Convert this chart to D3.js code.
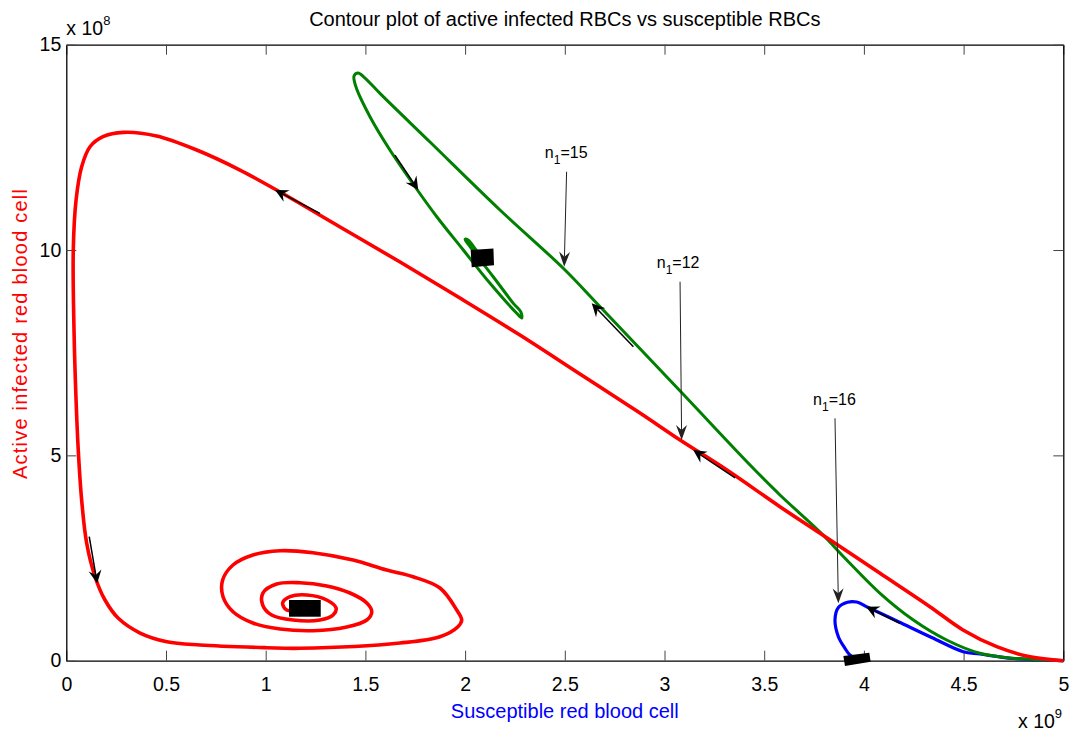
<!DOCTYPE html>
<html>
<head>
<meta charset="utf-8">
<script src="https://cdn.jsdelivr.net/npm/d3@7"></script>
<style>
  body { margin: 0; background: #fff; }
  svg { display: block; font-family: "Liberation Sans", Arial, Helvetica, sans-serif; }
</style>
</head>
<body>
<svg id="chart" width="1075" height="735"></svg>
<script>
// trajectories, x in 1e9 cells, y in 1e8 cells
const redPath = [
  [5.0,0.0],[4.833,0.097],[4.666,0.341],[4.497,0.748],[4.331,1.315],[4.081,2.128],
  [3.780,3.102],[3.579,3.750],[3.313,4.643],[3.078,5.374],[2.877,6.031],[2.576,6.981],
  [2.275,7.930],[1.974,8.831],[1.674,9.708],[1.373,10.560],[1.072,11.412],[0.871,11.948],
  [0.654,12.435],[0.453,12.776],[0.286,12.866],
  [0.184,12.759],[0.119,12.515],[0.077,12.028],[0.049,11.217],[0.035,10.0],[0.039,7.979],
  [0.049,6.348],[0.060,5.130],[0.077,3.913],[0.102,2.866],[0.144,2.045],[0.194,1.478],
  [0.261,1.032],[0.370,0.674],[0.504,0.463],[0.671,0.382],[1.005,0.317],[1.172,0.302],
  [1.674,0.431],[1.874,0.584],[1.964,0.828],[1.983,0.991],[1.958,1.234],[1.874,1.770],
  [1.739,2.045],[1.607,2.208],[1.438,2.452],[1.237,2.630],[1.072,2.678],[0.936,2.574],
  [0.836,2.330],[0.784,1.965],[0.786,1.558],[0.836,1.193],[0.936,0.918],[1.072,0.772],
  [1.237,0.730],[1.406,0.821],[1.507,0.991],[1.532,1.193],[1.507,1.405],[1.423,1.648],
  [1.306,1.819],[1.172,1.899],[1.055,1.868],[0.986,1.648],[0.985,1.356],[1.030,1.113],
  [1.137,0.991],[1.272,0.991],[1.338,1.113],[1.353,1.283],[1.306,1.478],[1.206,1.600],
  [1.122,1.558],[1.085,1.405],[1.105,1.234],[1.172,1.234]
];
const greenPath = [
  [5.0,0.0],[4.917,0.017],[4.748,0.058],[4.582,0.180],[4.415,0.504],[4.248,0.991],
  [4.081,1.641],[3.914,2.452],[3.780,3.134],[3.579,4.035],[3.429,4.765],[3.088,6.518],
  [2.677,8.619],[2.491,9.562],[2.175,10.974],[1.824,12.630],[1.573,13.815],[1.498,14.188],
  [1.463,14.310],[1.443,14.237],[1.453,13.969],[1.523,13.246],[1.623,12.435],[1.749,11.541],
  [1.858,10.811],[1.991,10.0],[2.125,9.189],[2.259,8.459],[2.284,8.344],[2.280,8.490],
  [2.242,8.702],[2.141,9.350],[2.025,10.080],[2.000,10.261],[2.015,10.243],[2.055,10.0],
  [2.085,9.830]
];
const bluePath = [
  [5.0,0.0],[4.748,0.054],[4.582,0.163],[4.498,0.219],[4.340,0.565],[4.173,0.950],
  [4.022,1.295],[3.964,1.429],[3.918,1.424],[3.872,1.295],[3.855,0.991],[3.872,0.584],
  [3.905,0.302],[3.930,0.139],[3.966,0.041]
];

// end-point markers (corners)
const redBox = [[1.117,1.478],[1.276,1.478],[1.276,1.071],[1.117,1.071]];
const greenBox = [[2.028,10.0],[2.142,10.04],[2.145,9.63],[2.033,9.58]];
const blueBox = [[3.897,0.114],[4.027,0.195],[4.034,-0.024],[3.905,-0.129]];

// direction arrows: [tailX, tailY, tipX, tipY]
const flowArrows = [
  [1.272,10.894,1.047,11.461],
  [0.115,3.019,0.155,1.885],
  [1.648,12.313,1.765,11.461],
  [2.844,7.645,2.635,8.702],
  [3.354,4.449,3.144,5.130],
  [4.181,0.911,4.011,1.315]
];

// annotations
const noteValues = ["15", "12", "16"];
const noteText = [[2.400,12.24],[2.961,9.569],[3.745,6.226]];
const noteArrows = [
  [2.509,11.907,2.497,9.593],
  [3.078,9.228,3.086,5.374],
  [3.855,5.902,3.872,1.398]
];

const xTicks = [0,0.5,1,1.5,2,2.5,3,3.5,4,4.5,5];
const yTicks = [0,5,10,15];

const svg = d3.select("#chart");
const mLeft = 66.3, mRight = 1063.3, mTop = 44.7, mBottom = 660.7;

const x = d3.scaleLinear().domain([0,5]).range([mLeft,mRight]);
const y = d3.scaleLinear().domain([0,15]).range([mBottom,mTop]);

// axes box
const axB = svg.append("g").attr("transform", "translate(0," + mBottom + ")")
  .call(d3.axisBottom(x).tickValues(xTicks).tickSizeInner(-10).tickSizeOuter(0).tickPadding(16).tickFormat(d3.format("")));
const axT = svg.append("g").attr("transform", "translate(0," + mTop + ")")
  .call(d3.axisTop(x).tickValues(xTicks).tickSizeInner(-10).tickSizeOuter(0).tickFormat(""));
const axL = svg.append("g").attr("transform", "translate(" + mLeft + ",0)")
  .call(d3.axisLeft(y).tickValues(yTicks).tickSizeInner(-10).tickSizeOuter(0).tickPadding(5));
const axR = svg.append("g").attr("transform", "translate(" + mRight + ",0)")
  .call(d3.axisRight(y).tickValues(yTicks).tickSizeInner(-10).tickSizeOuter(0).tickFormat(""));

[axB, axT, axL, axR].forEach(a => {
  a.select(".domain").attr("stroke", "#000").attr("stroke-width", 1.3);
  a.selectAll(".tick line").attr("stroke", "#444").attr("stroke-width", 1);
  a.selectAll(".tick text").attr("fill", "#000").attr("font-size", 19.5)
    .attr("font-family", "Liberation Sans, Arial, sans-serif");
});

const line = d3.line().x(d => x(d[0])).y(d => y(d[1])).curve(d3.curveCatmullRom.alpha(0.5));

svg.append("path").datum(bluePath).attr("d", line)
  .attr("fill", "none").attr("stroke", "#0000ff").attr("stroke-width", 3.2);
svg.append("path").datum(greenPath).attr("d", line)
  .attr("fill", "none").attr("stroke", "#008000").attr("stroke-width", 3);
svg.append("path").datum(redPath).attr("d", line)
  .attr("fill", "none").attr("stroke", "#ff0000").attr("stroke-width", 3.6);

// markers
[redBox, greenBox, blueBox].forEach(b => {
  svg.append("polygon")
    .attr("points", b.map(p => x(p[0]) + "," + y(p[1])).join(" "))
    .attr("fill", "#000");
});

function arrow(g, a, len, hw, notch, color, sw) {
  const tx = x(a[0]), ty = y(a[1]), hx = x(a[2]), hy = y(a[3]);
  const ang = Math.atan2(hy - ty, hx - tx);
  const ux = Math.cos(ang), uy = Math.sin(ang);
  const nx = -uy, ny = ux;
  g.append("line")
    .attr("x1", tx).attr("y1", ty)
    .attr("x2", hx - ux * (len - notch)).attr("y2", hy - uy * (len - notch))
    .attr("stroke", color).attr("stroke-width", sw);
  const bx = hx - ux * len, by = hy - uy * len;
  const p = [
    [hx, hy],
    [bx + nx * hw, by + ny * hw],
    [hx - ux * (len - notch), hy - uy * (len - notch)],
    [bx - nx * hw, by - ny * hw]
  ];
  g.append("path").attr("d", "M" + p.map(q => q.join(",")).join("L") + "Z").attr("fill", color);
}

const gFlow = svg.append("g");
flowArrows.forEach(a => arrow(gFlow, a, 13, 6.5, 4.5, "#000", 1.5));

const gNote = svg.append("g");
noteArrows.forEach(a => arrow(gNote, a, 15, 5.5, 5, "#222", 1));

noteText.forEach((p, i) => {
  const t = svg.append("text")
    .attr("x", x(p[0])).attr("y", y(p[1]))
    .attr("font-size", 16).attr("fill", "#000");
  t.append("tspan").text("n");
  t.append("tspan").attr("font-size", 12).attr("dy", 6).text("1");
  t.append("tspan").attr("dy", -6).text("=" + noteValues[i]);
});

// title and labels
svg.append("text").attr("x", (mLeft + mRight) / 2).attr("y", 26)
  .attr("text-anchor", "middle").attr("font-size", 20).attr("fill", "#000")
  .text("Contour plot of active infected RBCs vs susceptible RBCs");

svg.append("text").attr("x", (mLeft + mRight) / 2).attr("y", 718)
  .attr("text-anchor", "middle").attr("font-size", 20).attr("fill", "#0000ff")
  .text("Susceptible red blood cell");

svg.append("text")
  .attr("transform", "translate(27,334) rotate(-90)")
  .attr("text-anchor", "middle").attr("font-size", 20).attr("fill", "#ff0000")
  .attr("textLength", 290).attr("lengthAdjust", "spacing")
  .text("Active infected red blood cell");

// exponent labels
const e8 = svg.append("text").attr("x", mLeft).attr("y", 35).attr("font-size", 19.5).attr("fill", "#000");
e8.append("tspan").text("x 10");
e8.append("tspan").attr("font-size", 13).attr("dy", -10).text("8");

const e9 = svg.append("text").attr("x", 1018).attr("y", 728).attr("font-size", 19.5).attr("fill", "#000");
e9.append("tspan").text("x 10");
e9.append("tspan").attr("font-size", 13).attr("dy", -10).text("9");
</script>
</body>
</html>
